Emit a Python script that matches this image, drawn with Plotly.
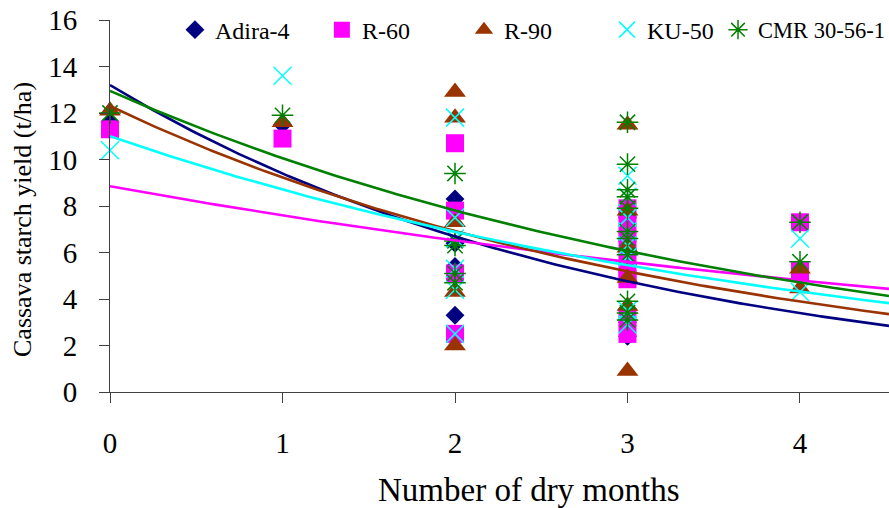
import numpy as np
import plotly.graph_objects as go

series_names = ["Adira-4", "R-60", "R-90", "KU-50", "CMR 30-56-1"]

adira_x = [0, 1, 2, 2, 2, 2, 3, 3, 3, 3, 3]
adira_y = [11.6, 11.5, 8.3, 6.4, 5.4, 3.3, 7.5, 6.5, 5.5, 3.0, 2.4]

r60_x = [0, 1, 2, 2, 2, 2, 3, 3, 3, 3, 3, 3, 3, 3, 4, 4]
r60_y = [11.3, 10.9, 10.7, 7.8, 5.1, 2.5, 7.9, 7.2, 6.5, 5.8, 5.2, 4.85, 3.2, 2.5, 7.3, 5.2]

r90_x = [0, 1, 2, 2, 2, 2, 2, 3, 3, 3, 3, 3, 3, 4, 4]
r90_y = [12.1, 11.6, 12.9, 11.8, 7.3, 4.3, 2.0, 11.5, 7.8, 6.2, 4.9, 3.7, 0.9, 5.3, 4.45]

ku50_x = [0, 1, 2, 2, 2, 2, 2, 2, 3, 3, 3, 3, 3, 3, 3, 3, 4, 4]
ku50_y = [10.4, 13.6, 11.8, 7.5, 6.6, 5.3, 4.4, 2.5, 9.3, 8.4, 7.5, 6.9, 6.3, 5.8, 3.5, 2.9, 6.6, 4.3]

cmr_x = [0, 1, 2, 2, 2, 2, 2, 3, 3, 3, 3, 3, 3, 3, 3, 3, 3, 3, 4, 4]
cmr_y = [12.0, 11.9, 9.4, 6.5, 6.3, 5.1, 4.7, 11.6, 9.8, 8.7, 8.4, 7.9, 6.9, 6.6, 5.9, 3.9, 3.4, 3.1, 7.3, 5.6]

# exponential trendlines y = a * exp(b * x), coefficients
trend_a = [13.2, 8.85, 12.3, 11.0, 12.95]
trend_b = [-0.340, -0.153, -0.288, -0.234, -0.253]

x_ticks = [0, 1, 2, 3, 4]
y_ticks = [0, 2, 4, 6, 8, 10, 12, 14, 16]

x_title = "Number of dry months"
y_title = "Cassava starch yield (t/ha)"

colors = ["#000080", "#FF00FF", "#993300", "#00FFFF", "#008000"]
FONT = "Liberation Serif, Times New Roman, DejaVu Serif, serif"

xs_all = [adira_x, r60_x, r90_x, ku50_x, cmr_x]
ys_all = [adira_y, r60_y, r90_y, ku50_y, cmr_y]
markers = [
    dict(symbol="diamond", size=14.5, color=colors[0]),
    dict(symbol="square", size=18, color=colors[1]),
    dict(symbol="triangle-up", size=19, color=colors[2]),
    dict(symbol="x-thin-open", size=18, color=colors[3], line=dict(color=colors[3], width=1.5)),
    dict(symbol="asterisk-open", size=18, color=colors[4], line=dict(color=colors[4], width=1.5)),
]
legend_ids = ["legend", "legend2", "legend3", "legend4", "legend5"]
legend_x = [0.0834, 0.272, 0.4544, 0.638, 0.7805]
legend_font = [24, 24, 24, 24, 22.5]

fig = go.Figure()
for i in range(5):
    fig.add_trace(go.Scatter(
        x=xs_all[i], y=ys_all[i], mode="markers", name=series_names[i],
        marker=markers[i], cliponaxis=False, legend=legend_ids[i],
    ))

x_max = 4.516
xc = np.linspace(0, x_max, 200)
for i in range(5):
    yc = trend_a[i] * np.exp(trend_b[i] * xc)
    fig.add_trace(go.Scatter(
        x=xc, y=yc, mode="lines", line=dict(color=colors[i], width=2.6),
        showlegend=False, hoverinfo="skip",
    ))

layout_legends = {}
for i, lid in enumerate(legend_ids):
    layout_legends[lid] = dict(
        x=legend_x[i], xanchor="left", y=0.973, yanchor="middle",
        orientation="h", bgcolor="rgba(0,0,0,0)",
        font=dict(family=FONT, size=legend_font[i], color="black"),
        itemwidth=30, tracegroupgap=0,
    )

fig.update_layout(
    width=889, height=508,
    margin=dict(l=110, r=0, t=20, b=116, autoexpand=False),
    paper_bgcolor="white", plot_bgcolor="white",
    font=dict(family=FONT, color="black"),
    xaxis=dict(
        range=[0, x_max], tickvals=x_ticks, ticktext=[str(v) for v in x_ticks],
        ticks="outside", ticklen=10, tickcolor="#404040", tickwidth=1,
        showline=True, linecolor="#404040", linewidth=1,
        showgrid=False, zeroline=False, ticklabeloverflow="allow",
        tickfont=dict(family=FONT, size=29, color="black"),
        ticklabelstandoff=15,
    ),
    yaxis=dict(
        range=[0, 16], tickvals=y_ticks, ticktext=[str(v) for v in y_ticks],
        ticks="outside", ticklen=10, tickcolor="#404040", tickwidth=1,
        showline=True, linecolor="#404040", linewidth=1,
        showgrid=False, zeroline=False, ticklabeloverflow="allow",
        tickfont=dict(family=FONT, size=29, color="black"),
        ticklabelstandoff=16,
    ),
    annotations=[
        dict(text=x_title, xref="paper", yref="paper", x=(529 - 110) / 779, y=(392 - 490) / 372,
             xanchor="center", yanchor="middle", showarrow=False,
             font=dict(family=FONT, size=33, color="black")),
        dict(text=y_title, xref="paper", yref="paper", x=0, xshift=22 - 110, y=(392 - 220) / 372,
             xanchor="center", yanchor="middle", showarrow=False, textangle=-90,
             font=dict(family=FONT, size=26, color="black")),
    ],
    **layout_legends,
)

fig.write_html(
    "out.html",
    config={"displayModeBar": False},
    post_script="document.body.style.margin='0';document.body.style.overflow='hidden';",
)
